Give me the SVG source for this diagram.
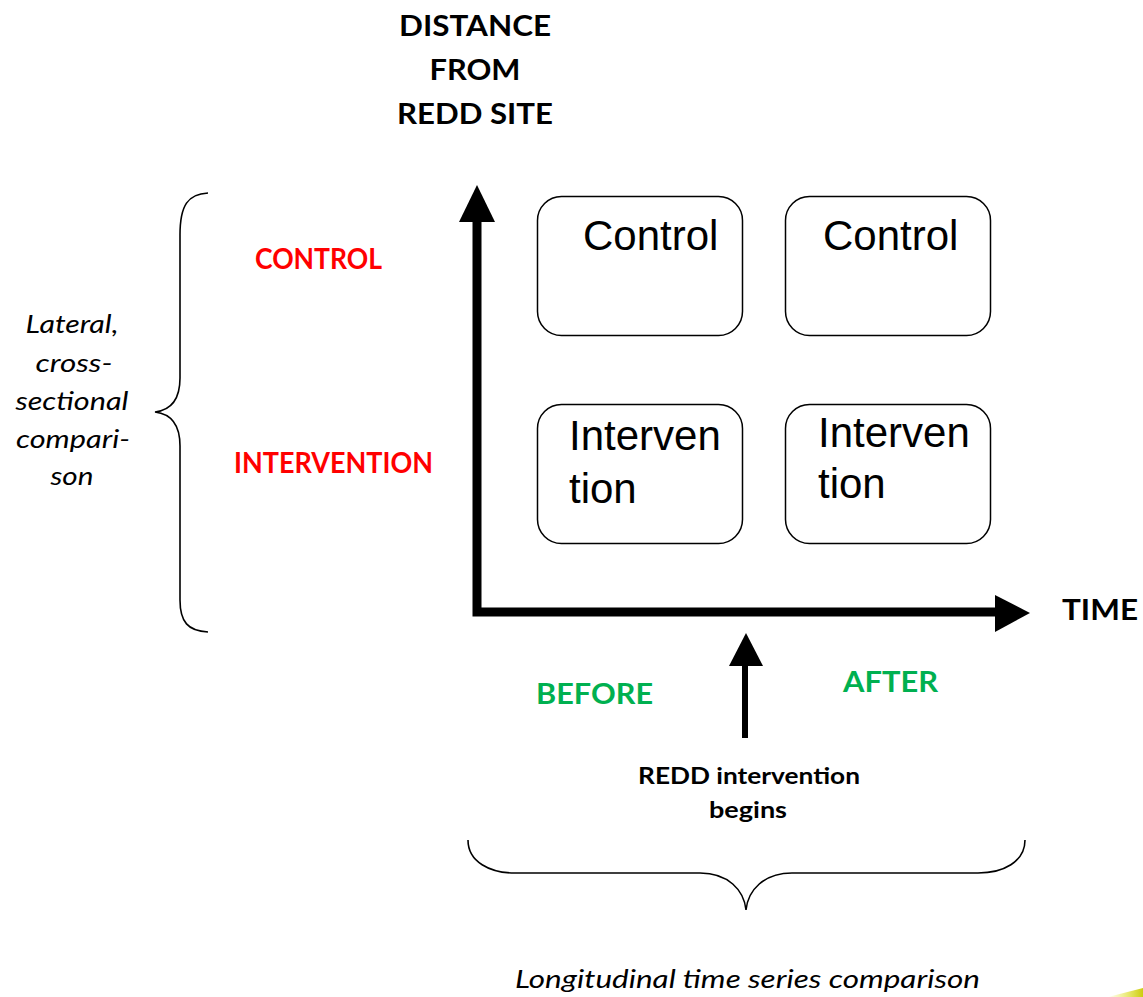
<svg xmlns="http://www.w3.org/2000/svg" width="1143" height="997" viewBox="0 0 1143 997">
<defs>
<style>
.b{font-family:Lato,"Noto Sans","Liberation Sans",sans-serif;font-weight:bold;}
.i{font-family:Lato,"Noto Sans","Liberation Sans",sans-serif;font-style:italic;fill:#000;}
.box{fill:#fff;stroke:#000;stroke-width:1.5;}
.bt{font-family:"Liberation Sans",Arial,sans-serif;font-size:42px;fill:#000;}
.brace{fill:none;stroke:#000;stroke-width:1.6;}
.red{fill:#ff0000;font-size:28px;}
.grn{fill:#00b050;font-size:28px;}
</style>
<linearGradient id="yg" x1="0" y1="0" x2="1" y2="0">
<stop offset="0" stop-color="#e6e600" stop-opacity="0"/>
<stop offset="1" stop-color="#cccc10"/>
</linearGradient>
</defs>
<rect width="1143" height="997" fill="#fff"/>

<g id="y-axis-title">
<text class="b" font-size="29" text-anchor="middle" x="475" y="36" textLength="152" lengthAdjust="spacingAndGlyphs">DISTANCE</text>
<text class="b" font-size="29" text-anchor="middle" x="475" y="80" textLength="91" lengthAdjust="spacingAndGlyphs">FROM</text>
<text class="b" font-size="29" text-anchor="middle" x="475" y="124" textLength="156" lengthAdjust="spacingAndGlyphs">REDD SITE</text>
</g>

<g id="left-brace"><path class="brace" d="M208,193 C188,194 180,205 180,235 L180,378 C180,398 172,410 155,412 C172,414 180,426 180,446 L180,600 C180,622 188,631 208,632"/></g>

<g id="lateral-label">
<text class="i" font-size="25.5" text-anchor="middle" x="72" y="333" textLength="93" lengthAdjust="spacingAndGlyphs">Lateral,</text>
<text class="i" font-size="25.5" text-anchor="middle" x="74" y="372" textLength="77" lengthAdjust="spacingAndGlyphs">cross-</text>
<text class="i" font-size="25.5" text-anchor="middle" x="72" y="410" textLength="113" lengthAdjust="spacingAndGlyphs">sectional</text>
<text class="i" font-size="25.5" text-anchor="middle" x="73" y="448" textLength="114" lengthAdjust="spacingAndGlyphs">compari-</text>
<text class="i" font-size="25.5" text-anchor="middle" x="72" y="485" textLength="43" lengthAdjust="spacingAndGlyphs">son</text>
</g>

<g id="control-label"><text class="b red" x="255" y="269" textLength="127" lengthAdjust="spacingAndGlyphs">CONTROL</text></g>
<g id="intervention-label"><text class="b red" x="234" y="473" textLength="199" lengthAdjust="spacingAndGlyphs">INTERVENTION</text></g>

<g id="box-control-before"><rect class="box" x="537.5" y="196.5" width="205" height="139" rx="24"/><text class="bt" x="583" y="250">Control</text></g>
<g id="box-control-after"><rect class="box" x="785.5" y="196.5" width="205" height="139" rx="24"/><text class="bt" x="823" y="250">Control</text></g>
<g id="box-intervention-before"><rect class="box" x="537.5" y="404.5" width="205" height="139" rx="24"/><text class="bt" x="569" y="450">Interven</text><text class="bt" x="569" y="503">tion</text></g>
<g id="box-intervention-after"><rect class="box" x="785.5" y="404.5" width="205" height="139" rx="24"/><text class="bt" x="818" y="447">Interven</text><text class="bt" x="818" y="498">tion</text></g>

<g id="connectors">
<path d="M477,220 L477,612 L997,612" fill="none" stroke="#000" stroke-width="9" stroke-linejoin="miter"/>
<polygon points="477,185 459,222 495,222" fill="#000"/>
<polygon points="1030,613 995,595 995,632" fill="#000"/>
<line x1="745" y1="664" x2="745" y2="738" stroke="#000" stroke-width="6"/>
<polygon points="746,633 729,666 763,666" fill="#000"/>
</g>

<g id="time-label"><text class="b" font-size="28" fill="#000" x="1062" y="620" textLength="76" lengthAdjust="spacingAndGlyphs">TIME</text></g>
<g id="before-label"><text class="b grn" x="536" y="704" textLength="117" lengthAdjust="spacingAndGlyphs">BEFORE</text></g>
<g id="after-label"><text class="b grn" x="843" y="692" textLength="95" lengthAdjust="spacingAndGlyphs">AFTER</text></g>

<g id="redd-begins">
<text class="b" font-size="23" fill="#000" text-anchor="middle" x="749" y="784" textLength="222" lengthAdjust="spacingAndGlyphs">REDD intervention</text>
<text class="b" font-size="23" fill="#000" text-anchor="middle" x="748" y="818" textLength="78" lengthAdjust="spacingAndGlyphs">begins</text>
</g>

<g id="bottom-brace"><path class="brace" d="M468,840 C468,862 490,873 515,873 L700,873 C728,873 744,890 746,910 C748,890 764,873 792,873 L978,873 C1003,873 1025,862 1025,840"/></g>

<g id="longitudinal-label"><text class="i" font-size="25.5" x="515" y="988" textLength="465" lengthAdjust="spacingAndGlyphs">Longitudinal time series comparison</text></g>

<polygon points="1108,997 1143,988 1143,997" fill="url(#yg)"/>
</svg>
